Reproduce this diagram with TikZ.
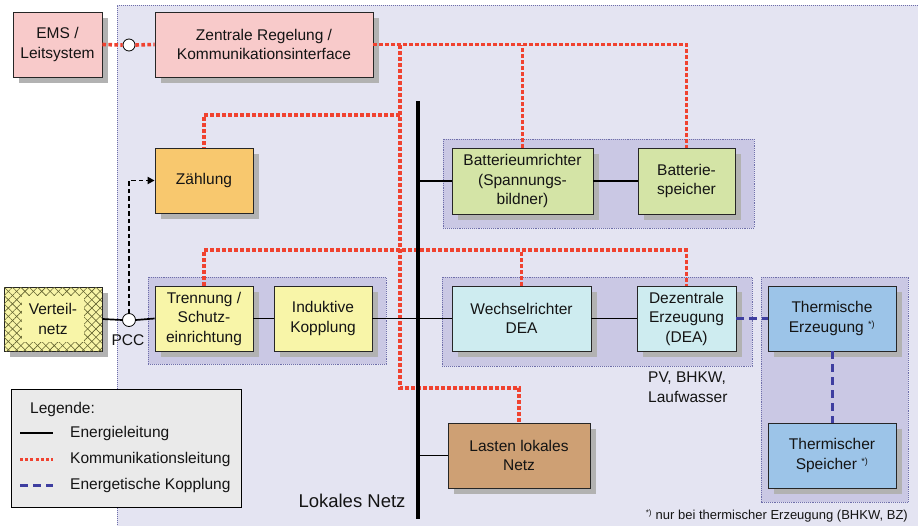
\documentclass[tikz,border=0pt]{standalone}
\usepackage{fontspec}
\setmainfont{Liberation Sans}
\usetikzlibrary{shadows,patterns.meta,arrows.meta}
\definecolor{bgcol}{RGB}{228,228,242}
\definecolor{groupfill}{RGB}{202,200,228}
\definecolor{bordercol}{RGB}{110,110,170}
\definecolor{pinkc}{RGB}{248,202,202}
\definecolor{orangec}{RGB}{248,200,110}
\definecolor{greenc}{RGB}{212,228,166}
\definecolor{yellowc}{RGB}{248,245,168}
\definecolor{cyanc}{RGB}{206,236,240}
\definecolor{bluec}{RGB}{156,196,232}
\definecolor{tanc}{RGB}{206,160,116}
\definecolor{legendc}{RGB}{234,234,234}
\definecolor{shadowgray}{RGB}{178,178,178}
\definecolor{commred}{RGB}{240,66,48}
\definecolor{kopblue}{RGB}{62,62,160}
\definecolor{hatchc}{RGB}{95,95,45}
\definecolor{textc}{RGB}{20,20,20}
\begin{document}
\begin{tikzpicture}[x=1pt,y=-1pt,
  every node/.style={font=\fontsize{15.5}{19.5}\selectfont, text=textc},
  boxshadow/.style={general shadow={fill=shadowgray, shadow xshift=6pt, shadow yshift=-6pt}},
  unit/.style={draw=black!85, line width=0.8pt, boxshadow, align=center, inner sep=2pt, minimum height=65pt},
  grp/.style={fill=groupfill, draw=bordercol, line width=0.9pt, densely dotted},
  comm/.style={draw=commred, line width=3.6pt, dash pattern=on 3.6pt off 2.4pt},
  energy/.style={draw=black, line width=1.7pt},
  kop/.style={draw=kopblue, line width=3pt, dash pattern=on 8pt off 5pt},
  junction/.style={circle, draw=black, fill=white, line width=0.8pt, minimum size=12pt, inner sep=0pt},
  footfont/.style={font=\fontsize{13}{16}\selectfont}
]
\useasboundingbox (0,0) rectangle (918,525);
% main background
\fill[bgcol] (117,5) rectangle (930,530);
\draw[bordercol, line width=1pt, densely dotted] (930,5) -- (117,5) -- (117,530);

% groups
\path[grp] (443,139) rectangle (754,228);
\path[grp] (148,277) rectangle (386,364);
\path[grp] (442,277) rectangle (752,366);
\path[grp] (761,277) rectangle (908,502);

% junction coordinates of the communication net
\coordinate (j1) at (400,45);
\coordinate (j2) at (400,115);
\coordinate (j3) at (400,250);
\coordinate (j4) at (400,388);

% boxes
\node[unit, fill=pinkc, minimum width=89pt] (ems) at (57.5,44.5) {EMS /\\Leitsystem};
\node[unit, fill=pinkc, minimum width=218pt] (zr) at (264,44.5) {Zentrale Regelung /\\Kommunikationsinterface};
\node[unit, fill=orangec, minimum width=98pt] (zaehl) at (204,180.5) {Zählung};
\node[unit, fill=greenc, minimum width=141pt, minimum height=66pt] (bu) at (522.5,181) {Batterieumrichter\\(Spannungs-\\bildner)};
\node[unit, fill=greenc, minimum width=97pt, minimum height=66pt] (bs) at (686.5,181) {Batterie-\\speicher};
\node[unit, fill=yellowc, minimum width=98pt, minimum height=64pt,
      postaction={pattern={Lines[angle=45,distance=5.9pt,line width=0.6pt]}, pattern color=hatchc},
      postaction={pattern={Lines[angle=-45,distance=5.9pt,line width=0.6pt]}, pattern color=hatchc},
      label={[name=vnlabel, fill=yellowc, align=center, minimum width=62pt, minimum height=46pt, inner sep=1pt]center:Verteil-\\netz}] (vn) at (53,319) {};
\node[unit, fill=yellowc, minimum width=98pt] (trenn) at (204,318.5) {Trennung /\\Schutz-\\einrichtung};
\node[unit, fill=yellowc, minimum width=98pt] (ind) at (323,318.5) {Induktive\\Kopplung};
\node[unit, fill=cyanc, minimum width=139pt] (wr) at (521.5,318.5) {Wechselrichter\\DEA};
\node[unit, fill=cyanc, minimum width=99pt] (dz) at (686.5,318.5) {Dezentrale\\Erzeugung\\(DEA)};
\node[unit, fill=bluec, minimum width=128pt] (te) at (832,318.5) {Thermische\\Erzeugung \textsuperscript{\fontsize{9}{10}\selectfont *)}};
\node[unit, fill=bluec, minimum width=128pt] (ts) at (832,455.5) {Thermischer\\Speicher \textsuperscript{\fontsize{9}{10}\selectfont *)}};
\node[unit, fill=tanc, minimum width=142pt] (lasten) at (519,455.5) {Lasten lokales\\Netz};

% junction circles
\node[junction] (c1) at (129,45) {};
\node[junction, minimum size=13pt] (pcc) at (129,320) {};
\node (pcclabel) at (128,340) {PCC};

% communication lines
\draw[comm] (ems.east) -- (c1.west);
\draw[comm] (c1.east) -- (zr.west);
\draw[comm] (zr.east) -| (bs.north);
\draw[comm] (bu.north) -- (bu.north |- j1);
\draw[comm] (j1) -- (j4) -| (lasten.north);
\draw[comm] (j2) -| (zaehl.north);
\draw[comm] (trenn.north) |- (j3) -| (dz.north);
\draw[comm] (wr.north) -- (wr.north |- j3);

% bus
\coordinate (bustop) at (418,101);
\coordinate (busbot) at (418,519);
\draw[black, line width=4pt] (bustop) -- (busbot);
\node[anchor=east, font=\fontsize{18.5}{22}\selectfont] (lokal) at (409,501) {Lokales Netz};

% energy lines
\draw[energy] (vn.east) -- (pcc.west);
\draw[energy] (pcc.east) -- (trenn.west);
\draw[energy] (trenn.east) -- (ind.west);
\draw[energy] (ind.east) -- (wr.west);
\draw[energy] (wr.east) -- (dz.west);
\draw[energy] (bu.west) -- (bu.west -| bustop);
\draw[energy] (bu.east) -- (bs.west);
\draw[energy] (lasten.west) -- (lasten.west -| bustop);

% measurement arrow
\draw[black, line width=1.8pt, dash pattern=on 4.5pt off 3pt, -{Triangle[length=7pt,width=7pt]}] (pcc.north) |- (zaehl.west);

% energetic coupling
\draw[kop] (dz.east) -- (te.west);
\draw[kop] (te.south) -- (ts.north);

% annotations
\node[anchor=north west, align=left, inner sep=0pt] (pv) at (648,372) {PV, BHKW,\\Laufwasser};
\node[footfont, anchor=east, inner sep=0pt] (foot) at (908,516) {\textsuperscript{\fontsize{8}{9}\selectfont *)} nur bei thermischer Erzeugung (BHKW, BZ)};

% legend
\node[draw=black, line width=0.9pt, fill=legendc, minimum width=230pt, minimum height=118pt, inner sep=0pt] (legend) at (126,448) {};
\node[anchor=west, inner sep=0pt] (legtitle) at (30,409) {Legende:};
\coordinate (l1a) at (20,433); \coordinate (l1b) at (53,433);
\coordinate (l2a) at (20,459); \coordinate (l2b) at (53,459);
\coordinate (l3a) at (20,485); \coordinate (l3b) at (53,485);
\draw[energy] (l1a) -- (l1b);
\draw[comm, line width=3pt, dash pattern=on 3pt off 2.2pt] (l2a) -- (l2b);
\draw[kop] (l3a) -- (l3b);
\node[anchor=west, inner sep=0pt] (leg1) at (70,433) {Energieleitung};
\node[anchor=west, inner sep=0pt] (leg2) at (70,459) {Kommunikationsleitung};
\node[anchor=west, inner sep=0pt] (leg3) at (70,485) {Energetische Kopplung};
\end{tikzpicture}
\end{document}
